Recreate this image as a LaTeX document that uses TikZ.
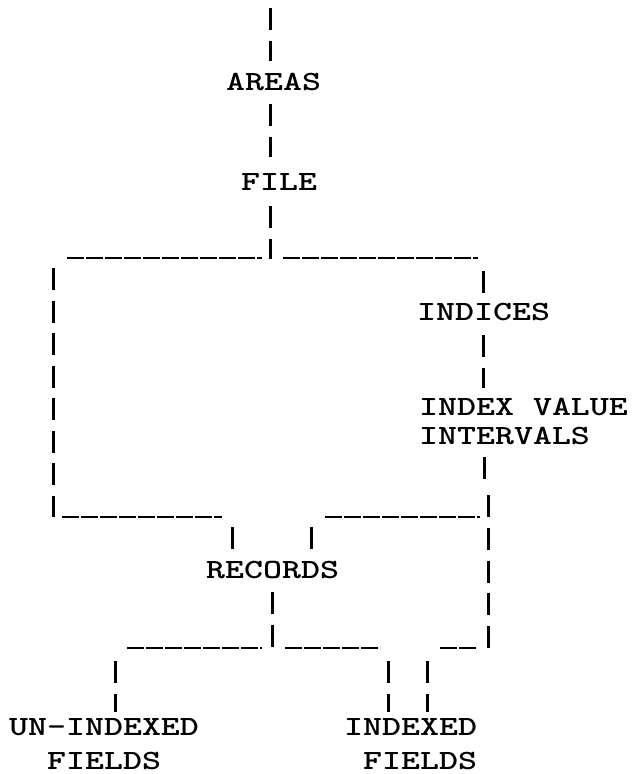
\documentclass[tikz,border=0pt]{standalone}
\usepackage{graphicx}
\newcommand\tw[1]{\scalebox{1.3}[1]{\fontsize{27.8}{29}\selectfont\ttfamily\bfseries #1}}
\newcommand\twtwo[3]{\tw{\vtop{\baselineskip=#3\hbox{#1}\hbox{#2}}}}
\begin{document}
\begin{tikzpicture}[x=1pt,y=-1pt,
  tick/.style={line width=3pt, dash pattern=on 22pt off 10.5pt},
  under/.style={line width=2.6pt, dash pattern=on 16.5pt off 2.5pt},
  lbl/.style={inner sep=0pt, anchor=base west}]
\fill[white] (0,0) rectangle (633,774);
\useasboundingbox (0,0) rectangle (633,774);
% labels
\node[lbl] (areas) at (226,90) {\tw{AREAS}};
\node[lbl] (file) at (241,190) {\tw{FILE}};
\node[lbl] (indices) at (417,320) {\tw{INDICES}};
\node[lbl] (ivi) at (419,415) {\twtwo{INDEX VALUE}{INTERVALS}{29pt}};
\node[lbl] (records) at (206,578) {\tw{RECORDS}};
\node[lbl] (unidx) at (9,735) {\twtwo{UN-INDEXED}{\phantom{UN}FIELDS}{34pt}};
\node[lbl] (idx) at (344,735) {\twtwo{INDEXED}{\phantom{I}FIELDS}{34pt}};
% coordinates
\coordinate (top0) at (270,8);    \coordinate (top1) at (270,61);
\coordinate (af0) at (270,104);   \coordinate (af1) at (270,157);
\coordinate (fj0) at (270,206);   \coordinate (fj) at (270,259);
\coordinate (h1a) at (67,258);    \coordinate (h1b) at (262,258);
\coordinate (h1c) at (283,258);   \coordinate (h1d) at (478,258);
\coordinate (l0) at (53,268);     \coordinate (l1) at (53,517);
\coordinate (h2a) at (62,517);    \coordinate (h2b) at (222,517);
\coordinate (r0) at (483,271);    \coordinate (r1) at (483,293);
\coordinate (r2) at (483,335);    \coordinate (r3) at (483,388);
\coordinate (r4) at (484,457);    \coordinate (r5) at (484,479);
\coordinate (r6) at (488,495);    \coordinate (r7) at (488,517);
\coordinate (h3a) at (325,517);   \coordinate (h3b) at (480,517);
\coordinate (ra0) at (232,527);   \coordinate (ra1) at (232,550);
\coordinate (rb0) at (311,527);   \coordinate (rb1) at (311,550);
\coordinate (rc0) at (272,592);   \coordinate (rc1) at (272,648);
\coordinate (rr0) at (488,528);   \coordinate (rr1) at (488,648);
\coordinate (h4a) at (127,648);   \coordinate (h4b) at (262,648);
\coordinate (h4c) at (285,648);   \coordinate (h4d) at (380,648);
\coordinate (h4e) at (440,648);   \coordinate (h4f) at (478,648);
\coordinate (u0) at (115,661);    \coordinate (u1) at (115,712);
\coordinate (i0) at (388,661);    \coordinate (i1) at (388,712);
\coordinate (k0) at (427,661);    \coordinate (k1) at (427,712);
% vertical strokes
\draw[tick] (top0) -- (top1);
\draw[tick] (af0) -- (af1);
\draw[tick] (fj0) -- (fj);
\draw[tick] (l0) -- (l1);
\draw[tick] (r0) -- (r1);
\draw[tick] (r2) -- (r3);
\draw[tick] (r4) -- (r5);
\draw[tick] (r6) -- (r7);
\draw[tick] (ra0) -- (ra1);
\draw[tick] (rb0) -- (rb1);
\draw[tick] (rc0) -- (rc1);
\draw[tick] (rr0) -- (rr1);
\draw[tick] (u0) -- (u1);
\draw[tick] (i0) -- (i1);
\draw[tick] (k0) -- (k1);
% underscore runs
\draw[under] (h1a) -- (h1b);
\draw[under] (h1c) -- (h1d);
\draw[under] (h2a) -- (h2b);
\draw[under] (h3a) -- (h3b);
\draw[under] (h4a) -- (h4b);
\draw[under] (h4c) -- (h4d);
\draw[under] (h4e) -- (h4f);
\end{tikzpicture}
\end{document}
